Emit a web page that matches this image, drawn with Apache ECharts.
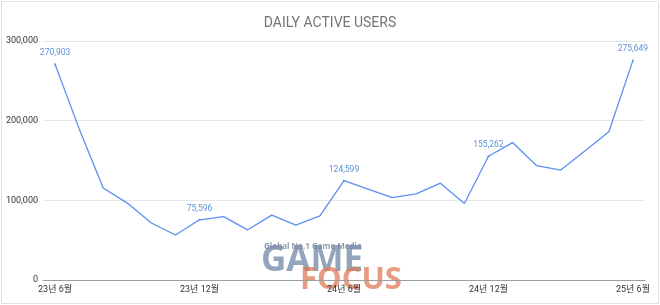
<!DOCTYPE html>
<html><head><meta charset="utf-8">
<script src="https://cdn.jsdelivr.net/npm/echarts@6/dist/echarts.min.js"></script>
<style>html,body{margin:0;padding:0;background:#fff}#c{width:660px;height:305px}</style>
</head><body><div id="c"></div>
<script>
const categories = ['23년 6월','23년 7월','23년 8월','23년 9월','23년 10월','23년 11월','23년 12월',
  '24년 1월','24년 2월','24년 3월','24년 4월','24년 5월','24년 6월','24년 7월','24년 8월','24년 9월',
  '24년 10월','24년 11월','24년 12월','25년 1월','25년 2월','25년 3월','25년 4월','25년 5월','25년 6월'];
const dau = [270903,190000,115500,96500,71500,56500,75596,79500,63000,81500,69000,80500,124599,114000,
  103500,108000,121500,96000,155262,172500,143500,138000,162000,186000,275649];
const labeledIdx = [0,6,12,18,24];
const yTicks = [0,100000,200000,300000];

const chart = echarts.init(document.getElementById('c'));
const font = 'Roboto, "Noto Sans CJK KR", sans-serif';
chart.setOption({
  animation:false,
  title:{text:'DAILY ACTIVE USERS',left:'center',top:12,textStyle:{color:'#757575',fontSize:14,fontWeight:'normal',fontFamily:font}},
  grid:{left:43,right:15,top:41,bottom:25},
  xAxis:{type:'category',data:categories,boundaryGap:true,
    axisLine:{lineStyle:{color:'#9e9e9e'}},axisTick:{show:false},
    axisLabel:{interval:5,color:'#333',fontSize:9,fontFamily:font,margin:5}},
  yAxis:{type:'value',min:yTicks[0],max:yTicks[yTicks.length-1],interval:100000,
    axisLine:{show:false},axisTick:{show:false},
    splitLine:{lineStyle:{color:'#e6e6e6'}},
    axisLabel:{color:'#333',fontSize:9,fontFamily:font,margin:5,formatter:v=>v.toLocaleString('en-US')}},
  series:[{type:'line',symbol:'circle',symbolSize:2,showAllSymbol:true,
    lineStyle:{color:'#5b8ff0',width:1.3},itemStyle:{color:'#5b8ff0'},
    data:dau.map((v,i)=>({value:v,symbolSize:labeledIdx.includes(i)?2:0,label:{show:labeledIdx.includes(i)}})),
    label:{position:'top',distance:6,color:'#5a93d6',fontSize:8.5,fontFamily:font,formatter:p=>p.value.toLocaleString('en-US')}}],
  graphic:[
    {type:'rect',shape:{x:1.5,y:1.5,width:657,height:302},style:{fill:'none',stroke:'#e0e0e0',lineWidth:1}},
    {type:'text',left:264,top:243,style:{text:'Global No.1 Game Media',fill:'#6b7b8f',font:'bold 8px "Open Sans", sans-serif',opacity:0.75}},
    {type:'text',left:261,top:244,style:{text:'GAME',fill:'#6f87a6',font:'bold 35px "Open Sans", sans-serif',opacity:0.75}},
    {type:'text',left:300,top:265,style:{text:'FOCUS',fill:'#e07a5a',font:'bold 31px "Open Sans", sans-serif',opacity:0.75}}
  ]
});
</script></body></html>
